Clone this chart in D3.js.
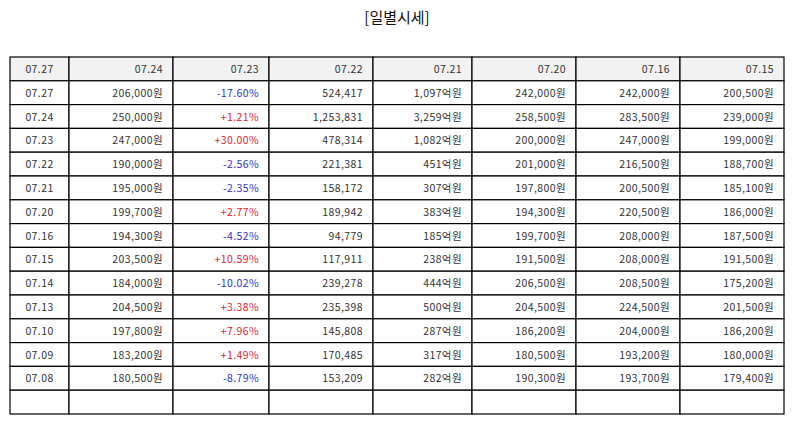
<!DOCTYPE html>
<html><head><meta charset="utf-8">
<script src="https://cdn.jsdelivr.net/npm/d3@7"></script>
<style>body{margin:0;background:#fff}text{font-family:"Noto Sans CJK KR","Noto Sans",sans-serif}</style>
</head><body><svg id="chart"></svg>
<script>
const headers = ["07.27","07.24","07.23","07.22","07.21","07.20","07.16","07.15"];
const dates = ["07.27","07.24","07.23","07.22","07.21","07.20","07.16","07.15","07.14","07.13","07.10","07.09","07.08"];
const closes = ["206,000원","250,000원","247,000원","190,000원","195,000원","199,700원","194,300원","203,500원","184,000원","204,500원","197,800원","183,200원","180,500원"];
const changes = [-17.60,1.21,30.00,-2.56,-2.35,2.77,-4.52,10.59,-10.02,3.38,7.96,1.49,-8.79];
const volumes = ["524,417","1,253,831","478,314","221,381","158,172","189,942","94,779","117,911","239,278","235,398","145,808","170,485","153,209"];
const amounts = ["1,097억원","3,259억원","1,082억원","451억원","307억원","383억원","185억원","238억원","444억원","500억원","287억원","317억원","282억원"];
const opens = ["242,000원","258,500원","200,000원","201,000원","197,800원","194,300원","199,700원","191,500원","206,500원","204,500원","186,200원","180,500원","190,300원"];
const highs = ["242,000원","283,500원","247,000원","216,500원","200,500원","220,500원","208,000원","208,000원","208,500원","224,500원","204,000원","193,200원","193,700원"];
const lows = ["200,500원","239,000원","199,000원","188,700원","185,100원","186,000원","187,500원","191,500원","175,200원","201,500원","186,200원","180,000원","179,400원"];

const W = 794, H = 425;
const svg = d3.select("#chart").attr("width", W).attr("height", H);

svg.append("text").attr("x", W/2).attr("y", 23).attr("text-anchor","middle")
  .attr("font-size", 15).attr("fill","#111").text("[일별시세]");

const colEdges = [10,69,173,269,373,472,576,680,784];
const nRows = dates.length + 2;
const y = d3.scaleLinear().domain([0, nRows]).range([57, 414]);

const fmtPct = v => (v > 0 ? "+" : "") + v.toFixed(2) + "%";
const rows = [headers.map(h => ({t:h}))];
dates.forEach((d,i) => rows.push([
  {t:d},{t:closes[i]},{t:fmtPct(changes[i]), c: changes[i] > 0 ? "#e3242b" : "#3333cc"},
  {t:volumes[i]},{t:amounts[i]},{t:opens[i]},{t:highs[i]},{t:lows[i]}
]));
rows.push(headers.map(() => ({t:""})));

const g = svg.append("g");
rows.forEach((row, r) => {
  row.forEach((cell, c) => {
    const x0 = colEdges[c], x1 = colEdges[c+1];
    g.append("rect").attr("x", x0).attr("y", y(r)).attr("width", x1-x0).attr("height", y(r+1)-y(r))
      .attr("fill", r === 0 ? "#f2f2f2" : "#fff").attr("stroke","#000").attr("stroke-width",1.2);
    const center = c === 0;
    g.append("text").attr("x", center ? (x0+x1)/2 : x1 - 10).attr("y", (y(r)+y(r+1))/2 + 4)
      .attr("text-anchor", center ? "middle" : "end").attr("font-size", 10.5)
      .attr("letter-spacing", 0.4)
      .attr("fill", cell.c || "#333").text(cell.t);
  });
});
</script></body></html>
